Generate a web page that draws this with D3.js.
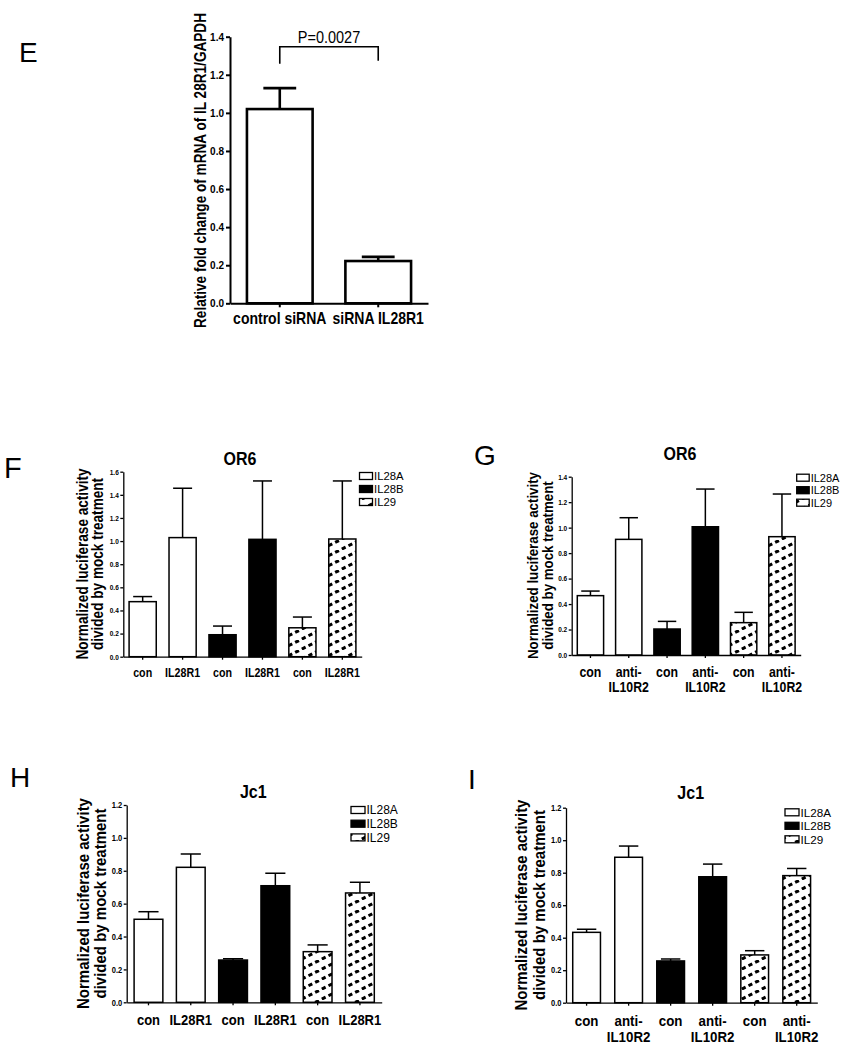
<!DOCTYPE html>
<html>
<head>
<meta charset="utf-8">
<script src="https://cdn.jsdelivr.net/npm/d3@7"></script>
<style>
  body { margin: 0; background: #fff; }
  svg { display: block; font-family: "Liberation Sans", Arial, sans-serif; }
</style>
</head>
<body>
<svg id="fig" width="844" height="1050"></svg>
<script>
// ---- data ----
// panel E
const eCategories = ["control siRNA", "siRNA IL28R1"];
const eMeans = [1.02, 0.222];
const eErrors = [0.11, 0.022];
const eTicks = [0, 0.2, 0.4, 0.6, 0.8, 1.0, 1.2, 1.4];
const ePLabel = "P=0.0027";

// panels F-I
const seriesNames = ["IL28A", "IL28B", "IL29"];
const barSeries = [0, 0, 1, 1, 2, 2];
const il28r1Labels = [["con"], ["IL28R1"], ["con"], ["IL28R1"], ["con"], ["IL28R1"]];
const il10r2Labels = [["con"], ["anti-", "IL10R2"], ["con"], ["anti-", "IL10R2"], ["con"], ["anti-", "IL10R2"]];
const yLabelLines = ["Normalized luciferase activity", "divided by mock treatment"];

const fMeans = [0.476, 1.03, 0.19, 1.015, 0.25, 1.018];
const fErrors = [0.044, 0.427, 0.075, 0.505, 0.093, 0.502];
const fTicks = [0, 0.2, 0.4, 0.6, 0.8, 1.0, 1.2, 1.4, 1.6];

const gMeans = [0.466, 0.908, 0.204, 1.007, 0.254, 0.929];
const gErrors = [0.036, 0.17, 0.06, 0.296, 0.081, 0.335];
const gTicks = [0, 0.2, 0.4, 0.6, 0.8, 1.0, 1.2, 1.4];

const hMeans = [0.505, 0.821, 0.257, 0.709, 0.308, 0.665];
const hErrors = [0.046, 0.081, 0.008, 0.076, 0.041, 0.065];
const hTicks = [0, 0.2, 0.4, 0.6, 0.8, 1.0, 1.2];

const iMeans = [0.433, 0.895, 0.257, 0.775, 0.294, 0.782];
const iErrors = [0.019, 0.069, 0.012, 0.078, 0.026, 0.044];
const iTicks = [0, 0.2, 0.4, 0.6, 0.8, 1.0, 1.2];

const svg = d3.select("#fig");
const SQUEEZE = 0.87; // the original lettering is narrower than Arial

// makes a text element taller while keeping the width it has at `size`
function squeeze(sel, size) {
  sel.style("font-size", size + "px");
  const len = sel.node().getComputedTextLength();
  sel.style("font-size", size / SQUEEZE + "px")
    .attr("textLength", len)
    .attr("lengthAdjust", "spacingAndGlyphs");
  return sel;
}

// hatched fill used for IL29
const hatch = svg.append("defs").append("pattern")
  .attr("id", "hatch")
  .attr("patternUnits", "userSpaceOnUse")
  .attr("width", 20)
  .attr("height", 10);
hatch.append("rect").attr("width", 20).attr("height", 10).attr("fill", "#fff");
[1.8, 8.47, 15.13].forEach((x0) => {
  hatch.append("line")
    .attr("x1", x0).attr("y1", 10 - x0 / 2)
    .attr("x2", x0 + 3.8).attr("y2", 10 - (x0 + 3.8) / 2)
    .attr("stroke", "#000")
    .attr("stroke-width", 3);
});

const fills = ["#fff", "#000", "url(#hatch)"];

function drawPanel(p) {
  const g = svg.append("g");

  const x = d3.scaleBand()
    .domain(d3.range(p.means.length))
    .range([p.left, p.right])
    .paddingInner(p.padIn)
    .paddingOuter(p.padOut);

  const y = d3.scaleLinear().domain([0, p.yMax]).range([p.y0, p.yTop]);

  // panel letter
  g.append("text")
    .attr("x", p.letterX)
    .attr("y", p.letterY)
    .style("font-size", p.letterSize + "px")
    .text(p.letter);

  // title
  if (p.title) {
    squeeze(g.append("text")
      .attr("x", p.titleX)
      .attr("y", p.titleY)
      .attr("text-anchor", "middle")
      .style("font-weight", "bold")
      .text(p.title), 16);
  }

  // bars
  g.selectAll(".bar")
    .data(p.means)
    .enter()
    .append("rect")
    .attr("x", (d, i) => x(i))
    .attr("y", (d) => y(d))
    .attr("width", x.bandwidth())
    .attr("height", (d) => p.y0 - y(d))
    .attr("fill", (d, i) => fills[p.series[i]])
    .attr("stroke", "#000")
    .attr("stroke-width", p.barStroke);

  // error bars (upper only)
  const cap = x.bandwidth() * p.capFrac;
  p.means.forEach((m, i) => {
    const cx = x(i) + x.bandwidth() / 2;
    g.append("line")
      .attr("x1", cx).attr("x2", cx)
      .attr("y1", y(m)).attr("y2", y(m + p.errors[i]))
      .attr("stroke", "#000").attr("stroke-width", p.barStroke);
    g.append("line")
      .attr("x1", cx - cap / 2).attr("x2", cx + cap / 2)
      .attr("y1", y(m + p.errors[i])).attr("y2", y(m + p.errors[i]))
      .attr("stroke", "#000").attr("stroke-width", p.barStroke);
  });

  // y axis
  const yAxis = g.append("g")
    .attr("transform", `translate(${p.left},0)`)
    .call(d3.axisLeft(y).tickValues(p.ticks).tickFormat(d3.format(".1f"))
      .tickSize(p.tickLen).tickSizeOuter(0).tickPadding(p.tickPad));
  yAxis.selectAll("text")
    .style("font-weight", "bold")
    .style("font-family", "'Liberation Sans', Arial, sans-serif")
    .attr("fill", "#000")
    .each(function () { squeeze(d3.select(this), p.tickFont); });
  yAxis.selectAll("path, line").attr("stroke", "#000").attr("stroke-width", p.axisStroke);

  // x axis
  const xAxis = g.append("g")
    .attr("transform", `translate(0,${p.y0})`)
    .call(d3.axisBottom(x).tickFormat("").tickSize(p.tickLen).tickSizeOuter(0));
  xAxis.selectAll("path, line").attr("stroke", "#000").attr("stroke-width", p.axisStroke);

  // category labels
  p.labels.forEach((lines, i) => {
    const cx = x(i) + x.bandwidth() / 2;
    lines.forEach((s, k) => {
      squeeze(g.append("text")
        .attr("x", cx)
        .attr("y", p.labelY + k * p.labelLine)
        .attr("text-anchor", "middle")
        .style("font-weight", "bold")
        .text(s), p.labelFont);
    });
  });

  // y axis title (rotated)
  p.yTitle.forEach((s, k) => {
    squeeze(g.append("text")
      .attr("transform", `translate(${p.yTitleX + k * p.yTitleLine},${p.yTitleMid}) rotate(-90)`)
      .attr("text-anchor", "middle")
      .style("font-weight", "bold")
      .text(s), p.yTitleFont);
  });

  // legend
  if (p.legend) {
    const lg = g.append("g");
    seriesNames.forEach((name, i) => {
      const cy = p.legY + i * p.legStep;
      lg.append("rect")
        .attr("x", p.legX)
        .attr("y", cy - 3.5)
        .attr("width", p.legW)
        .attr("height", 7)
        .attr("fill", fills[i])
        .attr("stroke", "#000")
        .attr("stroke-width", 1.3);
      lg.append("text")
        .attr("x", p.legX + p.legW + 1.5)
        .attr("y", cy + 4.2)
        .style("font-size", p.legFont + "px")
        .text(name);
    });
  }

  // significance bracket
  if (p.pLabel) {
    const x1 = x(0) + x.bandwidth() / 2;
    const x2 = x(1) + x.bandwidth() / 2;
    g.append("path")
      .attr("d", `M${x1},${p.brY + 17}V${p.brY}H${x2}V${p.brY + 14}`)
      .attr("fill", "none")
      .attr("stroke", "#000")
      .attr("stroke-width", 1.6);
    squeeze(g.append("text")
      .attr("x", (x1 + x2) / 2)
      .attr("y", p.brY - 4)
      .attr("text-anchor", "middle")
      .text(p.pLabel), 14.5);
  }
}

// ---- panels ----
drawPanel({
  letter: "E", letterX: 19, letterY: 62, letterSize: 28,
  means: eMeans, errors: eErrors, series: [0, 0], ticks: eTicks, yMax: 1.4,
  left: 230, right: 428, y0: 303.3, yTop: 36.7, padIn: 0.333, padOut: 0.172,
  barStroke: 2.6, axisStroke: 2, capFrac: 0.5, tickLen: 4, tickPad: 2, tickFont: 10,
  labels: eCategories.map((c) => [c]), labelY: 324, labelLine: 0, labelFont: 14,
  yTitle: ["Relative fold change of mRNA of IL 28R1/GAPDH"], yTitleX: 205.5, yTitleLine: 0,
  yTitleMid: 170.5, yTitleFont: 13.6,
  pLabel: ePLabel, brY: 46.7,
});

drawPanel({
  letter: "F", letterX: 4, letterY: 478, letterSize: 29,
  title: "OR6", titleX: 240, titleY: 465,
  means: fMeans, errors: fErrors, series: barSeries, ticks: fTicks, yMax: 1.6,
  left: 123.3, right: 361.7, y0: 656.7, yTop: 471.7, padIn: 0.32, padOut: 0.145,
  barStroke: 1.5, axisStroke: 1.3, capFrac: 0.7, tickLen: 3, tickPad: 1.5, tickFont: 6.5,
  labels: il28r1Labels, labelY: 676.5, labelLine: 13, labelFont: 10.7,
  yTitle: yLabelLines, yTitleX: 87.8, yTitleLine: 15, yTitleMid: 564, yTitleFont: 13.6,
  legend: true, legX: 359.5, legY: 476, legStep: 13, legW: 13, legFont: 11.3,
});

drawPanel({
  letter: "G", letterX: 474, letterY: 465, letterSize: 28,
  title: "OR6", titleX: 680, titleY: 460,
  means: gMeans, errors: gErrors, series: barSeries, ticks: gTicks, yMax: 1.4,
  left: 571.7, right: 800.7, y0: 655, yTop: 476.7, padIn: 0.313, padOut: 0.146,
  barStroke: 1.5, axisStroke: 1.3, capFrac: 0.7, tickLen: 3, tickPad: 1.5, tickFont: 6.5,
  labels: il10r2Labels, labelY: 676.5, labelLine: 15, labelFont: 12.3,
  yTitle: yLabelLines, yTitleX: 538.3, yTitleLine: 15, yTitleMid: 565.5, yTitleFont: 13.3,
  legend: true, legX: 796.7, legY: 477.7, legStep: 12.5, legW: 12.5, legFont: 11,
});

drawPanel({
  letter: "H", letterX: 10, letterY: 787, letterSize: 28,
  title: "Jc1", titleX: 253.3, titleY: 798.3,
  means: hMeans, errors: hErrors, series: barSeries, ticks: hTicks, yMax: 1.2,
  left: 126.7, right: 381.7, y0: 1002.3, yTop: 805, padIn: 0.32, padOut: 0.175,
  barStroke: 1.5, axisStroke: 1.3, capFrac: 0.7, tickLen: 3, tickPad: 1.5, tickFont: 7.5,
  labels: il28r1Labels, labelY: 1025, labelLine: 15, labelFont: 13,
  yTitle: yLabelLines, yTitleX: 89, yTitleLine: 16.5, yTitleMid: 903.5, yTitleFont: 15,
  legend: true, legX: 351, legY: 810, legStep: 13.7, legW: 14, legFont: 12,
});

drawPanel({
  letter: "I", letterX: 468, letterY: 789, letterSize: 28,
  title: "Jc1", titleX: 690.7, titleY: 799.3,
  means: iMeans, errors: iErrors, series: barSeries, ticks: iTicks, yMax: 1.2,
  left: 566, right: 817.3, y0: 1002.7, yTop: 807.7, padIn: 0.34, padOut: 0.16,
  barStroke: 1.5, axisStroke: 1.3, capFrac: 0.7, tickLen: 3, tickPad: 1.5, tickFont: 7.5,
  labels: il10r2Labels, labelY: 1025.5, labelLine: 16, labelFont: 13.3,
  yTitle: yLabelLines, yTitleX: 527.3, yTitleLine: 18, yTitleMid: 905, yTitleFont: 15,
  legend: true, legX: 785, legY: 812.3, legStep: 13.5, legW: 14, legFont: 11.7,
});
</script>
</body>
</html>
